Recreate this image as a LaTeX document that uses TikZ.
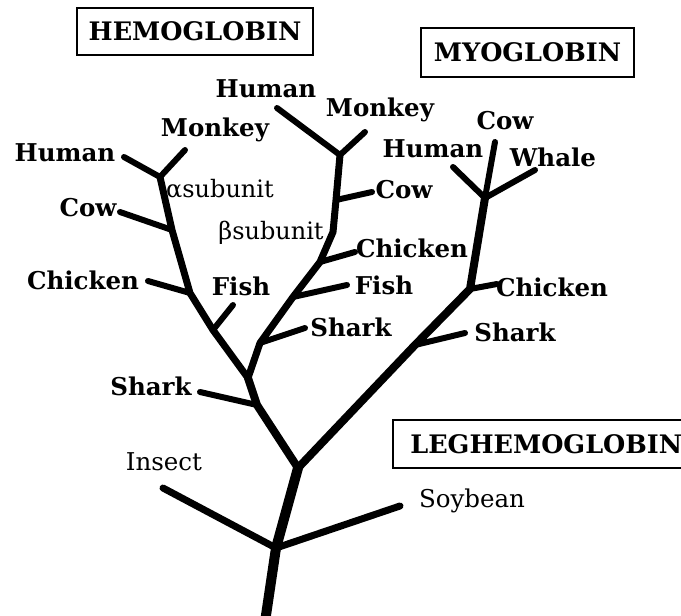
\documentclass[tikz,border=0pt]{standalone}
\usepackage{fontspec}
\setmainfont{DejaVu Serif}
\begin{document}
\begin{tikzpicture}[x=1pt,y=-1pt,
  lbl/.style={inner sep=0pt,font=\fontsize{24.5}{28}\selectfont\bfseries},
  lblr/.style={inner sep=0pt,font=\fontsize{24.5}{28}\selectfont},
  sub/.style={inner sep=0pt,font=\fontsize{24}{28}\selectfont},
  titlebox/.style={draw,line width=1.6pt,inner sep=0pt,font=\fontsize{25.5}{29}\selectfont\bfseries},
  br/.style={line width=6pt,line cap=round,line join=round},
  mainbr/.style={line width=8pt,line cap=round,line join=round},
  trunk/.style={line width=10pt,line cap=butt,line join=round}]
\useasboundingbox (0,0) rectangle (681,616);
% junctions and ends
\coordinate (root) at (265,622);
\coordinate (jins) at (276,548);
\coordinate (insE) at (163,488);
\coordinate (soyE) at (400,506);
\coordinate (jmain) at (298,468);
% myoglobin
\coordinate (jms) at (415,345);
\coordinate (msE) at (465,333);
\coordinate (jmc) at (470,289);
\coordinate (mcE) at (497,284);
\coordinate (jmyo) at (485,198);
\coordinate (mhE) at (453,167);
\coordinate (mcoE) at (495,142);
\coordinate (mwE) at (535,170);
% hemoglobin
\coordinate (jhs) at (257,405);
\coordinate (hsE) at (200,392);
\coordinate (jab) at (248,378);
\coordinate (jaf) at (213,330);
\coordinate (afE) at (233,305);
\coordinate (jac) at (190,293);
\coordinate (acE) at (148,281);
\coordinate (jaco) at (172,230);
\coordinate (acoE) at (120,212);
\coordinate (ja) at (160,177);
\coordinate (ahE) at (124,157);
\coordinate (amE) at (185,150);
\coordinate (jbs) at (260,343);
\coordinate (bsE) at (305,328);
\coordinate (jbf) at (293,297);
\coordinate (bfE) at (347,285);
\coordinate (jbc) at (320,262);
\coordinate (bcE) at (355,252);
\coordinate (bk) at (333,232);
\coordinate (jbco) at (336,200);
\coordinate (bcoE) at (372,192);
\coordinate (jb) at (340,155);
\coordinate (bhE) at (277,108);
\coordinate (bmE) at (365,132);
% tree
\draw[trunk] (root) -- (jins) -- (jmain);
\draw[br,line width=7pt] (jins) -- (insE);
\draw[br,line width=7pt] (jins) -- (soyE);
\draw[mainbr] (jmain) -- (jms) -- (jmc) -- (jmyo);
\draw[br] (jms) -- (msE);
\draw[br] (jmc) -- (mcE);
\draw[br] (jmyo) -- (mhE);
\draw[br] (jmyo) -- (mcoE);
\draw[br] (jmyo) -- (mwE);
\draw[mainbr] (jmain) -- (jhs) -- (jab);
\draw[br] (jhs) -- (hsE);
\draw[br,line width=7pt] (jab) -- (jaf) -- (jac) -- (jaco) -- (ja);
\draw[br] (jaf) -- (afE);
\draw[br] (jac) -- (acE);
\draw[br] (jaco) -- (acoE);
\draw[br] (ja) -- (ahE);
\draw[br] (ja) -- (amE);
\draw[br,line width=7pt] (jab) -- (jbs) -- (jbf) -- (jbc) -- (bk) -- (jbco) -- (jb);
\draw[br] (jbs) -- (bsE);
\draw[br] (jbf) -- (bfE);
\draw[br] (jbc) -- (bcE);
\draw[br] (jbco) -- (bcoE);
\draw[br] (jb) -- (bhE);
\draw[br] (jb) -- (bmE);
% titles
\node[titlebox,minimum width=236pt,minimum height=47pt] (hemo) at (195,31.5) {HEMOGLOBIN};
\node[titlebox,minimum width=213pt,minimum height=49pt] (myo) at (527.5,52.5) {MYOGLOBIN};
\node[titlebox,minimum width=300pt,minimum height=48pt,anchor=west] (leg) at (392,444) {\hspace*{7pt}LEGHEMOGLOBIN\hfill};
% labels
\node[lbl] (ahL) at (65,153) {Human};
\node[lbl] (amL) at (215,130) {Monkey};
\node[lbl] (acoL) at (88,208) {Cow};
\node[lbl] (acL) at (83,280) {Chicken};
\node[lbl] (afL) at (241,286) {Fish};
\node[lbl] (hsL) at (151,386) {Shark};
\node[sub] (asub) at (220,189) {αsubunit};
\node[sub] (bsub) at (271,233) {βsubunit};
\node[lbl] (bhL) at (266,89) {Human};
\node[lbl] (bmL) at (380,110) {Monkey};
\node[lbl] (bcoL) at (404,190) {Cow};
\node[lbl] (bcL) at (412,248) {Chicken};
\node[lbl] (bfL) at (384,285) {Fish};
\node[lbl] (bsL) at (351,327) {Shark};
\node[lbl] (mhL) at (433,149) {Human};
\node[lbl] (mcoL) at (505,121) {Cow};
\node[lbl] (mwL) at (553,157) {Whale};
\node[lbl] (mcL) at (552,287) {Chicken};
\node[lbl] (msL) at (515,332) {Shark};
\node[lblr] (insL) at (164,462) {Insect};
\node[lblr] (soyL) at (472,501) {Soybean};
\end{tikzpicture}
\end{document}
